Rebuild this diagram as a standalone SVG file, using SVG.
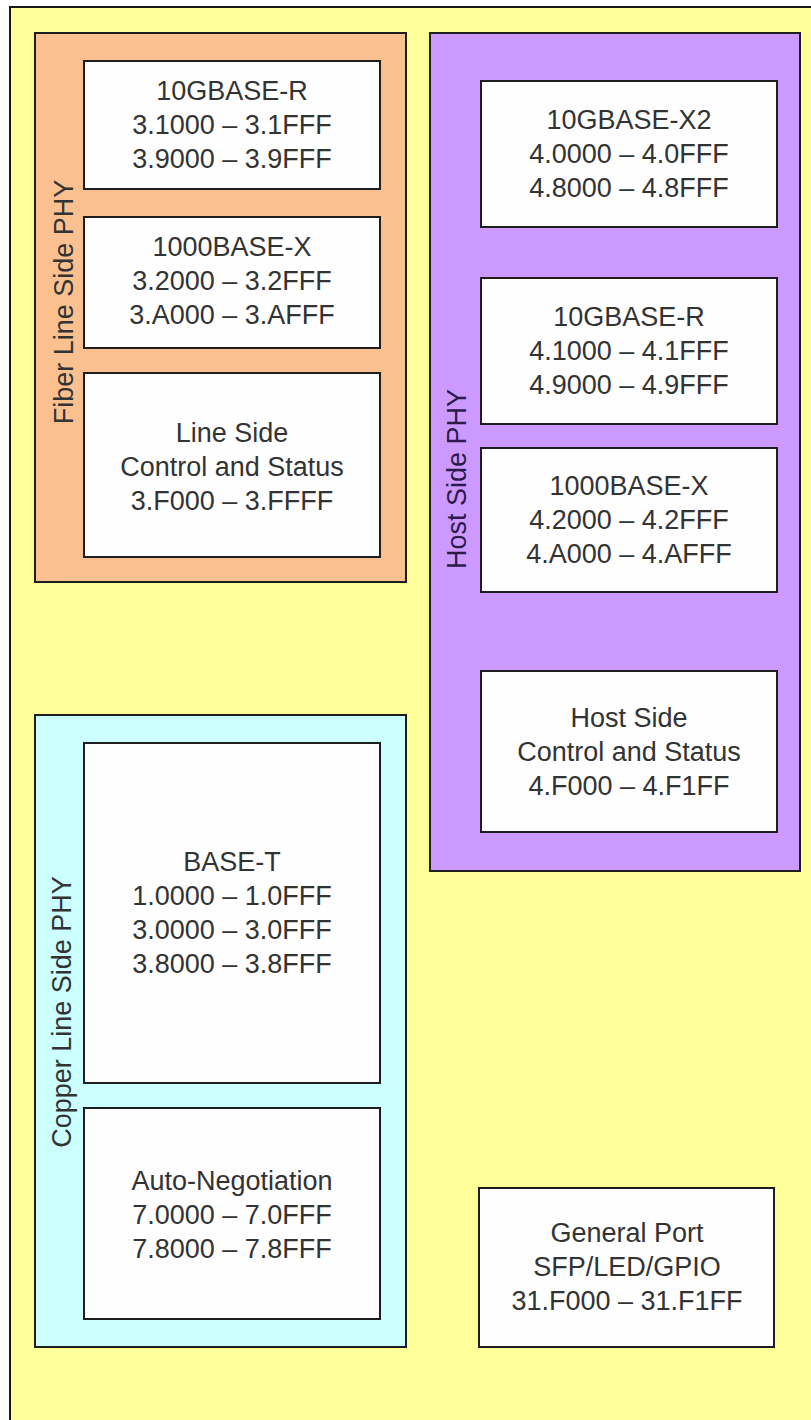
<svg xmlns="http://www.w3.org/2000/svg" width="811" height="1420" viewBox="0 0 811 1420">
<style>
.box{fill:#fefefe;stroke:#1e1e1e;stroke-width:2}
.grp{stroke:#1e1e1e;stroke-width:2}
.t{font-family:"Liberation Sans",Arial,sans-serif;font-size:27px;fill:#333;text-anchor:middle}
.v{font-family:"Liberation Sans",Arial,sans-serif;font-size:27px;text-anchor:middle}
</style>
<rect width="811" height="1420" fill="#ffffff"/>
<rect x="10" y="7" width="830" height="1440" fill="#FFFF99" stroke="#1a1a1a" stroke-width="2"/>

<g id="fiber">
<rect class="grp" x="35" y="33" width="371" height="549" fill="#FAC090"/>
<text class="v" fill="#333" transform="translate(73,302) rotate(-90)">Fiber Line Side PHY</text>
</g>
<g id="fiber-10gbase-r">
<rect class="box" x="84" y="61" width="296" height="128"/>
<text class="t" x="232" y="100">10GBASE-R</text>
<text class="t" x="232" y="134">3.1000 – 3.1FFF</text>
<text class="t" x="232" y="168">3.9000 – 3.9FFF</text>
</g>
<g id="fiber-1000base-x">
<rect class="box" x="84" y="217" width="296" height="131"/>
<text class="t" x="232" y="256">1000BASE-X</text>
<text class="t" x="232" y="290">3.2000 – 3.2FFF</text>
<text class="t" x="232" y="324">3.A000 – 3.AFFF</text>
</g>
<g id="fiber-control">
<rect class="box" x="84" y="373" width="296" height="184"/>
<text class="t" x="232" y="442">Line Side</text>
<text class="t" x="232" y="476">Control and Status</text>
<text class="t" x="232" y="510">3.F000 – 3.FFFF</text>
</g>

<g id="host">
<rect class="grp" x="430" y="33" width="370" height="838" fill="#CC99FF"/>
<text class="v" fill="#2e1a4a" transform="translate(466,479) rotate(-90)">Host Side PHY</text>
</g>
<g id="host-10gbase-x2">
<rect class="box" x="481" y="81" width="296" height="146"/>
<text class="t" x="629" y="129">10GBASE-X2</text>
<text class="t" x="629" y="163">4.0000 – 4.0FFF</text>
<text class="t" x="629" y="197">4.8000 – 4.8FFF</text>
</g>
<g id="host-10gbase-r">
<rect class="box" x="481" y="278" width="296" height="146"/>
<text class="t" x="629" y="326">10GBASE-R</text>
<text class="t" x="629" y="360">4.1000 – 4.1FFF</text>
<text class="t" x="629" y="394">4.9000 – 4.9FFF</text>
</g>
<g id="host-1000base-x">
<rect class="box" x="481" y="448" width="296" height="144"/>
<text class="t" x="629" y="495">1000BASE-X</text>
<text class="t" x="629" y="529">4.2000 – 4.2FFF</text>
<text class="t" x="629" y="563">4.A000 – 4.AFFF</text>
</g>
<g id="host-control">
<rect class="box" x="481" y="671" width="296" height="161"/>
<text class="t" x="629" y="727">Host Side</text>
<text class="t" x="629" y="761">Control and Status</text>
<text class="t" x="629" y="795">4.F000 – 4.F1FF</text>
</g>

<g id="copper">
<rect class="grp" x="35" y="715" width="371" height="632" fill="#CCFFFF"/>
<text class="v" fill="#333" transform="translate(71,1012) rotate(-90)">Copper Line Side PHY</text>
</g>
<g id="copper-base-t">
<rect class="box" x="84" y="743" width="296" height="340"/>
<text class="t" x="232" y="871">BASE-T</text>
<text class="t" x="232" y="905">1.0000 – 1.0FFF</text>
<text class="t" x="232" y="939">3.0000 – 3.0FFF</text>
<text class="t" x="232" y="973">3.8000 – 3.8FFF</text>
</g>
<g id="copper-autoneg">
<rect class="box" x="84" y="1108" width="296" height="211"/>
<text class="t" x="232" y="1190">Auto-Negotiation</text>
<text class="t" x="232" y="1224">7.0000 – 7.0FFF</text>
<text class="t" x="232" y="1258">7.8000 – 7.8FFF</text>
</g>

<g id="general-port">
<rect class="box" x="479" y="1188" width="295" height="159"/>
<text class="t" x="627" y="1242">General Port</text>
<text class="t" x="627" y="1276">SFP/LED/GPIO</text>
<text class="t" x="627" y="1310">31.F000 – 31.F1FF</text>
</g>
<g id="connectors"></g>
</svg>
